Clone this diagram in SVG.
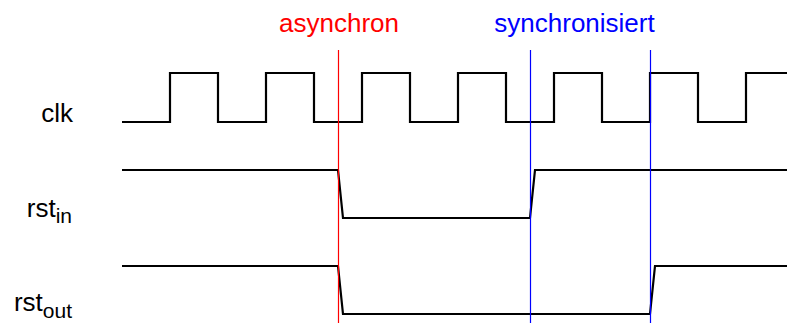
<svg xmlns="http://www.w3.org/2000/svg" width="787" height="323" viewBox="0 0 787 323">
  <style>
    .sig { fill: none; stroke: #000; stroke-width: 2.2; stroke-linejoin: miter; }
    .lbl { font-family: "Liberation Sans", Arial, sans-serif; font-size: 26px; fill: #000; }
    .sub { font-size: 21px; }
    .mark { stroke-width: 1.2; }
    .red { stroke: #ff0000; }
    .blue { stroke: #0000ff; }
    .note { font-family: "Liberation Sans", Arial, sans-serif; font-size: 26px; text-anchor: middle; }
  </style>
  <rect width="787" height="323" fill="#fff"/>

  <!-- signal names -->
  <g id="label-clk"><text class="lbl" x="73" y="122" text-anchor="end">clk</text></g>
  <g id="label-rst-in"><text class="lbl" x="72" y="217" text-anchor="end">rst<tspan class="sub" dy="6">in</tspan></text></g>
  <g id="label-rst-out"><text class="lbl" x="72" y="311" text-anchor="end">rst<tspan class="sub" dy="7">out</tspan></text></g>

  <!-- waveforms -->
  <g id="wave-clk">
    <path class="sig" d="M122,122 H170 V73 H218 V122 H266 V73 H314 V122 H362 V73 H410 V122 H458 V73 H506 V122 H554 V73 H602 V122 H650 V73 H698 V122 H746 V73 H787"/>
  </g>
  <g id="wave-rst-in">
    <path class="sig" d="M122,170 H338 L343,218 H530 L535,170 H787"/>
  </g>
  <g id="wave-rst-out">
    <path class="sig" d="M122,266 H338 L343,314 H650 L655,266 H787"/>
  </g>

  <!-- event markers -->
  <g id="connectors">
    <line class="mark red" x1="338.5" y1="50" x2="338.5" y2="323"/>
    <line class="mark blue" x1="530.5" y1="50" x2="530.5" y2="323"/>
    <line class="mark blue" x1="650.5" y1="50" x2="650.5" y2="323"/>
  </g>
  <g id="note-async"><text class="note" x="339" y="32" fill="#ff0000">asynchron</text></g>
  <g id="note-sync"><text class="note" x="574.5" y="32" fill="#0000ff">synchronisiert</text></g>
</svg>
